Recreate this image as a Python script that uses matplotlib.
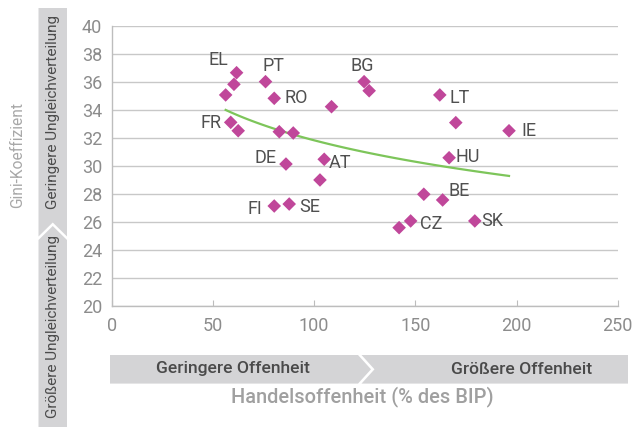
import numpy as np
import matplotlib
matplotlib.use("Agg")
import matplotlib.pyplot as plt
from matplotlib.patches import Polygon

plt.rcParams["font.family"] = ["Roboto", "DejaVu Sans"]

# trade openness (% of GDP) vs Gini coefficient
openness = [61.7, 60.4, 56.3, 76.0, 80.3, 108.6, 124.7, 127.2, 58.8, 62.5,
            82.8, 89.7, 86.1, 105.0, 102.9, 80.3, 87.7, 162.1, 170.0, 196.3,
            166.7, 154.2, 163.5, 147.7, 142.0, 179.4]
gini = [36.66, 35.83, 35.07, 36.02, 34.83, 34.23, 36.02, 35.37, 33.11, 32.51,
        32.44, 32.35, 30.13, 30.47, 28.99, 27.13, 27.27, 35.07, 33.09, 32.51,
        30.58, 27.97, 27.56, 26.06, 25.58, 26.06]
labels = ["EL", "", "", "PT", "RO", "", "BG", "", "FR", "",
          "", "", "DE", "AT", "", "FI", "SE", "LT", "", "IE",
          "HU", "", "BE", "CZ", "", "SK"]
# label offsets in points (dx, dy)
label_offsets = {
    "EL": (-13, 9.5), "PT": (6, 11.5), "RO": (15.5, 0.5), "BG": (-1.5, 11.5),
    "FR": (-14, -0.5), "DE": (-14.5, 4.5), "AT": (11.5, -2.5), "FI": (-14, -2.5),
    "SE": (15, -2), "LT": (14.5, -2), "IE": (14.5, 0), "HU": (13.5, 0.5),
    "BE": (12, 6.5), "CZ": (14.5, -2.5), "SK": (12.5, 0),
}

x_ticks = [0, 50, 100, 150, 200, 250]
y_ticks = [20, 22, 24, 26, 28, 30, 32, 34, 36, 38, 40]

W, H = 643, 430
fig = plt.figure(figsize=(W / 100, H / 100), dpi=100)

# background layer in pixel coordinates for the arrow bands
bg = fig.add_axes([0, 0, 1, 1])
bg.set_xlim(0, W)
bg.set_ylim(H, 0)
bg.axis("off")
band_col = "#d4d4d6"
# horizontal band
bg.add_patch(Polygon([(110, 355), (358, 355), (371, 369.3), (358, 383.6), (110, 383.6)],
                     closed=True, fc=band_col, ec="none"))
bg.add_patch(Polygon([(361.5, 355), (628, 355), (628, 383.6), (361.5, 383.6), (374.5, 369.3)],
                     closed=True, fc=band_col, ec="none"))
# vertical band
bg.add_patch(Polygon([(38.5, 8), (67, 8), (67, 236.5), (52.75, 222.5), (38.5, 236.5)],
                     closed=True, fc=band_col, ec="none"))
bg.add_patch(Polygon([(38.5, 240), (52.75, 226), (67, 240), (67, 427), (38.5, 427)],
                     closed=True, fc=band_col, ec="none"))

dark = "#4a4a4a"
bg.text(233, 369, "Geringere Offenheit", ha="center", va="center", fontsize=12.6,
        color=dark, weight="medium")
bg.text(522, 369, "Größere Offenheit", ha="center", va="center", fontsize=12.6,
        color=dark, weight="medium")
bg.text(53, 112, "Geringere Ungleichverteilung", ha="center", va="center",
        rotation=90, fontsize=11, color=dark)
bg.text(53, 326, "Größere Ungleichverteilung", ha="center", va="center",
        rotation=90, fontsize=11, color=dark)
bg.text(362, 397, "Handelsoffenheit (% des BIP)", ha="center", va="center",
        fontsize=14.4, color="#a0a0a0", weight="medium")
bg.text(18, 155, "Gini-Koeffizient", ha="center", va="center", rotation=90,
        fontsize=11.2, color="#a8a8a8")

ax = fig.add_axes([111.7 / W, 1 - 305.7 / H, 506 / W, 279.7 / H])
ax.set_facecolor("none")
ax.set_xlim(0, 250)
ax.set_ylim(20, 40)
ax.set_xticks(x_ticks)
ax.set_yticks(y_ticks)
ax.grid(axis="y", color="#c8c8c8", lw=1)
ax.set_axisbelow(True)
for s in ["top", "right"]:
    ax.spines[s].set_visible(False)
for s in ["left", "bottom"]:
    ax.spines[s].set_color("#bdbdbd")
    ax.spines[s].set_linewidth(1)
ax.tick_params(axis="x", direction="in", length=4, color="#bdbdbd", pad=8,
               labelsize=13, labelcolor="#8c8c8c")
ax.tick_params(axis="y", length=0, pad=7, labelsize=13, labelcolor="#8c8c8c")

# logarithmic trend line fitted to the data
xs = np.array(openness)
b, a = np.polyfit(np.log(xs), np.array(gini), 1)
xt = np.linspace(xs.min(), xs.max(), 100)
ax.plot(xt, a + b * np.log(xt), color="#7dc55a", lw=1.6, zorder=2)

ax.scatter(openness, gini, marker="D", s=48, color="#c0479a", edgecolors="none",
           zorder=3, clip_on=False)
for x, y, lab in zip(openness, gini, labels):
    if lab:
        ax.annotate(lab, (x, y), xytext=label_offsets[lab], textcoords="offset points",
                    ha="center", va="center", fontsize=13, color="#505050")

fig.savefig("out.png", dpi=100)
